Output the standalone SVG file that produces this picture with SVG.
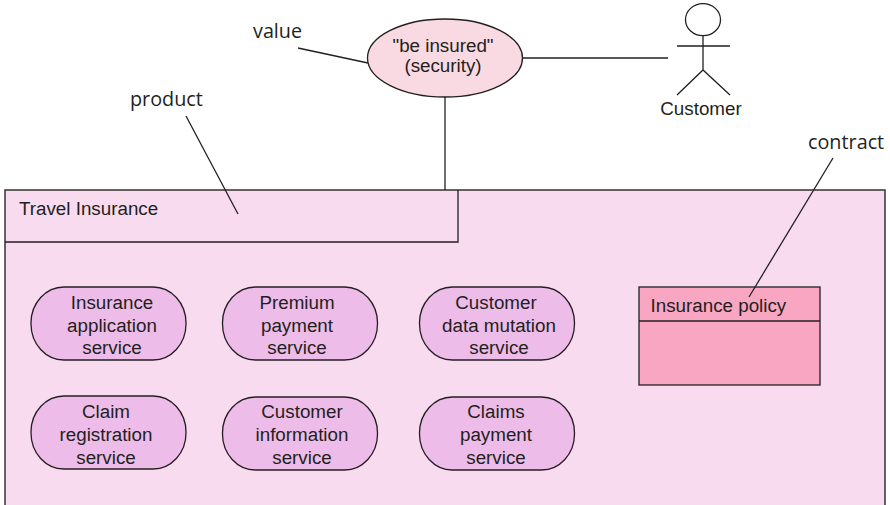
<svg xmlns="http://www.w3.org/2000/svg" width="890" height="505" viewBox="0 0 890 505">
<style>
.t{font-family:"Liberation Sans",Arial,sans-serif;font-size:18.8px;fill:#231f20}
.m{text-anchor:middle}
.l{font-family:"Open Sans","Noto Sans",sans-serif;font-size:19.8px;fill:#231f20}
.s{stroke:#231f20;stroke-width:1.3;fill:none}
.p{fill:#eebce9;stroke:#231f20;stroke-width:1.3}
</style>
<rect width="890" height="505" fill="#fff"/>
<g id="product-box">
<path d="M5 505V190H885V505" fill="#f9dbf0" stroke="#333" stroke-width="1.5"/>
<path d="M5 242H458V190" class="s"/>
<text class="t" x="19" y="215">Travel Insurance</text>
</g>
<g id="value-node">
<ellipse cx="445" cy="58" rx="77.5" ry="39" fill="#fadae2" stroke="#231f20" stroke-width="1.3"/>
<text class="t m" x="443" y="52">"be insured"</text>
<text class="t m" x="443" y="72">(security)</text>
</g>
<g id="customer">
<ellipse cx="703" cy="19.7" rx="17.5" ry="16" class="s"/>
<path d="M703 36V70M677 46H730M677 95L703 70L730 95" class="s"/>
<text class="t m" x="701" y="115">Customer</text>
</g>
<g id="label-value"><text class="l" x="253" y="38">value</text></g>
<g id="label-product"><text class="l" x="130" y="106">product</text></g>
<g id="label-contract"><text class="l" x="808" y="149">contract</text></g>
<g id="svc1"><rect class="p" x="31" y="287" width="155" height="73" rx="33" ry="36"/>
<text class="t m" x="112" y="309">Insurance</text><text class="t m" x="112" y="332">application</text><text class="t m" x="112" y="354">service</text></g>
<g id="svc2"><rect class="p" x="222.500" y="287" width="155" height="73" rx="33" ry="36"/>
<text class="t m" x="297" y="309">Premium</text><text class="t m" x="297" y="332">payment</text><text class="t m" x="297" y="354">service</text></g>
<g id="svc3"><rect class="p" x="419.500" y="287" width="155" height="73" rx="33" ry="36"/>
<text class="t m" x="496" y="309">Customer</text><text class="t m" x="499" y="332">data mutation</text><text class="t m" x="499" y="354">service</text></g>
<g id="svc4"><rect class="p" x="31" y="396" width="155" height="73" rx="33" ry="36"/>
<text class="t m" x="106" y="418">Claim</text><text class="t m" x="106" y="441">registration</text><text class="t m" x="106" y="464">service</text></g>
<g id="svc5"><rect class="p" x="222.500" y="397" width="155" height="73" rx="33" ry="36"/>
<text class="t m" x="302" y="418">Customer</text><text class="t m" x="302" y="441">information</text><text class="t m" x="302" y="464">service</text></g>
<g id="svc6"><rect class="p" x="419.500" y="397" width="155" height="73" rx="33" ry="36"/>
<text class="t m" x="496" y="418">Claims</text><text class="t m" x="496" y="441">payment</text><text class="t m" x="496" y="464">service</text></g>
<g id="policy">
<rect x="639" y="287" width="181" height="98" fill="#f9a6c3" stroke="#231f20" stroke-width="1.3"/>
<line class="s" x1="639" y1="321" x2="820" y2="321"/>
<text class="t" x="650.500" y="312">Insurance policy</text>
</g>
<g id="connectors">
<line class="s" x1="298" y1="48" x2="368" y2="63"/>
<line class="s" x1="523" y1="58" x2="668" y2="58"/>
<line class="s" x1="445" y1="97" x2="445" y2="190" stroke-width="1.5"/>
<line class="s" x1="186" y1="116" x2="238" y2="214"/>
<line class="s" x1="833" y1="158" x2="749" y2="297"/>
</g>
</svg>
